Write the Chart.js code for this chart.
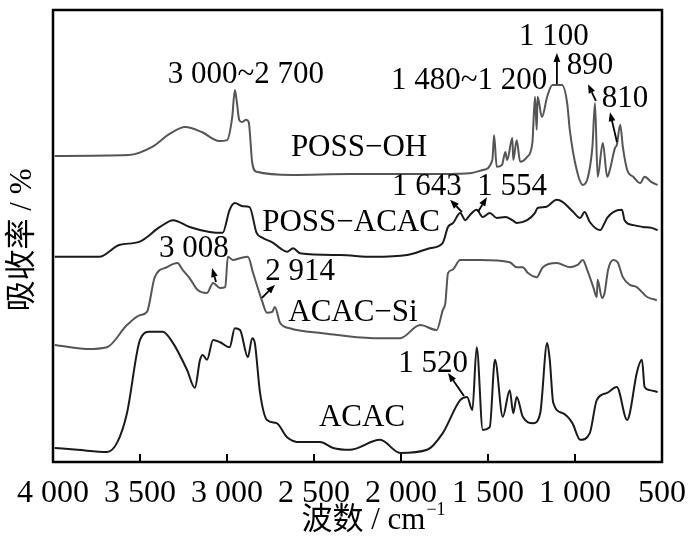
<!DOCTYPE html>
<html><head><meta charset="utf-8">
<script src="https://cdn.jsdelivr.net/npm/chart.js@4.4.1/dist/chart.umd.min.js"></script>
<style>html,body{margin:0;padding:0;background:#fff}</style>
</head><body>
<canvas id="c" width="700" height="555"></canvas>
<script>
// ---- data (wavenumber / cm^-1 and stacked absorbance reading, arbitrary %) ----
const xTicks = [4000, 3500, 3000, 2500, 2000, 1500, 1000, 500];
const xTickLabels = ['4 000', '3 500', '3 000', '2 500', '2 000', '1 500', '1 000', '500'];
const seriesNames = ['POSS−OH', 'POSS−ACAC', 'ACAC−Si', 'ACAC'];

const possOhWn = [3990,3565,3430,3330,3240,3145,3045,3000,2970,2955,2945,2930,2915,2890,2875,2870,2855,2830,2625,2295,1890,1605,1530,1475,1465,1450,1420,1400,1390,1360,1355,1335,1315,1275,1245,1230,1220,1215,1190,1160,1130,1075,1045,1030,990,955,925,900,885,870,840,815,800,770,760,740,725,700,665,625,600,560,525];
const possOhVal = [67.7,67.9,69.7,72.6,74.1,73.0,71.0,71.2,76.3,82.3,80.1,75.7,75.2,75.7,75.2,73.5,66.2,64.2,63.5,63.7,63.7,63.9,64.6,66.8,72.3,65.3,65.7,68.6,66.8,71.7,66.8,71.2,66.4,67.5,70.6,80.8,73.5,80.8,76.3,80.8,83.4,83.4,79.4,73.5,64.6,61.3,63.1,69.7,79.4,63.1,70.6,63.1,64.6,69.5,70.1,74.6,69.7,64.6,63.1,61.7,63.1,61.9,61.3];

const possAcacWn = [3990,3735,3620,3505,3385,3310,3215,3100,3025,2985,2955,2910,2870,2830,2795,2735,2695,2655,2620,2580,2350,2160,1965,1835,1760,1730,1700,1660,1630,1605,1565,1530,1490,1450,1400,1360,1335,1275,1230,1215,1170,1105,1070,1010,970,945,915,855,830,815,780,730,715,665,610,560,525];
const possAcacVal = [45.4,45.4,48.0,48.7,52.0,53.5,52.0,50.9,50.7,55.8,57.3,56.6,56.4,50.7,49.6,48.5,47.3,46.5,47.3,46.2,45.8,45.4,45.8,47.3,48.5,52.0,52.9,55.1,53.5,54.6,55.8,54.2,55.1,54.0,54.2,53.5,52.9,53.5,55.1,56.2,56.4,58.0,57.5,55.3,54.0,55.3,53.1,51.3,52.9,54.0,55.3,55.8,53.5,52.4,52.0,51.8,51.3];

const acacSiWn = [3990,3805,3690,3575,3500,3460,3415,3345,3285,3255,3215,3170,3115,3080,3040,3010,2995,2965,2925,2880,2850,2800,2770,2740,2725,2695,2640,2450,2160,2005,1890,1795,1760,1745,1730,1705,1660,1545,1375,1335,1300,1270,1220,1185,1105,1030,985,955,930,895,875,870,845,830,810,780,755,725,685,645,585,530];
const acacSiVal = [25.9,25.0,25.4,30.3,32.5,33.2,40.9,43.1,44.0,42.5,40.7,38.1,37.4,39.6,38.5,38.7,45.4,44.7,45.1,45.4,41.8,35.8,33.0,33.2,34.3,30.8,29.6,28.5,27.4,27.4,30.3,29.2,33.6,35.2,41.8,42.5,44.7,44.7,44.2,43.1,43.1,41.8,40.9,43.1,44.0,43.1,43.6,44.7,42.5,38.7,36.5,40.3,36.3,37.4,42.5,44.7,44.2,40.9,39.2,38.7,36.5,35.8];

const acacWn = [3990,3860,3690,3630,3575,3500,3445,3370,3310,3230,3185,3155,3140,3115,3080,3040,2985,2955,2925,2880,2855,2840,2810,2770,2715,2655,2580,2465,2390,2295,2120,2005,1850,1760,1660,1620,1590,1565,1530,1490,1460,1415,1375,1355,1335,1300,1240,1200,1160,1145,1125,1070,1015,970,915,875,815,760,700,685,645,615,600,570,525];
const acacVal = [3.1,2.7,2.2,4.4,10.8,27.0,28.8,28.8,26.3,20.4,16.4,22.6,23.7,22.6,27.0,26.5,25.4,29.6,29.2,23.2,27.4,26.3,15.3,9.3,8.6,5.5,4.4,4.4,3.1,2.7,4.9,2.0,2.7,6.4,13.7,14.4,11.5,25.4,7.1,7.7,22.6,10.0,15.9,10.8,14.4,10.0,8.6,10.8,26.3,22.6,13.1,10.8,8.6,4.9,6.4,13.7,15.3,16.6,9.3,10.8,19.7,22.6,16.6,15.9,15.5];

// ---- annotations (in data coordinates) ----
const notes = [
  {text:'3 000~2 700', wn:2891, val:85.6},
  {text:'1 100', wn:1121, val:94.0},
  {text:'1 480~1 200', wn:1609, val:84.3},
  {text:'890', wn:914, val:87.6},
  {text:'810', wn:713, val:80.3},
  {text:'POSS−OH', wn:2241, val:69.5},
  {text:'1 643', wn:1851, val:60.8},
  {text:'1 554', wn:1362, val:60.8},
  {text:'POSS−ACAC', wn:2287, val:52.9},
  {text:'3 008', wn:3190, val:47.1},
  {text:'2 914', wn:2580, val:42.0},
  {text:'ACAC−Si', wn:2276, val:33.0},
  {text:'1 520', wn:1816, val:21.7},
  {text:'ACAC', wn:2224, val:9.7}
];
const arrows = [
  {hw:1104, hv:90.5, tw:1104, tv:83.6},
  {hw:925, hv:83.6, tw:880, tv:79.9},
  {hw:799, hv:77.4, tw:759, tv:70.8},
  {hw:1718, hv:58.0, tw:1649, tv:55.3},
  {hw:1506, hv:58.6, tw:1558, tv:55.3},
  {hw:3086, hv:42.9, tw:3063, tv:39.8},
  {hw:2724, hv:39.2, tw:2799, tv:36.3},
  {hw:1730, hv:19.7, tw:1638, tv:14.6}
];

const toPts = (w, v) => w.map((x, i) => ({x, y: v[i]}));
const colors = ['#555555', '#1a1a1a', '#555555', '#1a1a1a'];
const seriesData = [toPts(possOhWn, possOhVal), toPts(possAcacWn, possAcacVal), toPts(acacSiWn, acacSiVal), toPts(acacWn, acacVal)];

const SERIF = '"Liberation Serif", "Noto Sans CJK SC", serif';

const decor = {
  id: 'decor',
  afterDatasetsDraw(chart) {
    const {ctx, chartArea: a, scales: {x, y}} = chart;
    ctx.save();
    // frame
    ctx.strokeStyle = '#000';
    ctx.lineWidth = 2.5;
    ctx.strokeRect(a.left, a.top, a.right - a.left, a.bottom - a.top);
    // inward tick marks
    ctx.lineWidth = 2;
    xTicks.forEach(t => {
      if (t === 4000 || t === 500) return;
      const px = x.getPixelForValue(t);
      ctx.beginPath(); ctx.moveTo(px, a.bottom); ctx.lineTo(px, a.bottom - 8); ctx.stroke();
    });
    // arrows
    ctx.fillStyle = '#000';
    ctx.lineWidth = 1.8;
    arrows.forEach(ar => {
      const hx = x.getPixelForValue(ar.hw), hy = y.getPixelForValue(ar.hv);
      const tx = x.getPixelForValue(ar.tw), ty = y.getPixelForValue(ar.tv);
      const ang = Math.atan2(hy - ty, hx - tx);
      const L = 9, W = 3.4;
      const bx = hx - L * Math.cos(ang), by = hy - L * Math.sin(ang);
      ctx.beginPath(); ctx.moveTo(tx, ty); ctx.lineTo(bx, by); ctx.stroke();
      ctx.beginPath();
      ctx.moveTo(hx, hy);
      ctx.lineTo(bx + W * Math.sin(ang), by - W * Math.cos(ang));
      ctx.lineTo(bx - W * Math.sin(ang), by + W * Math.cos(ang));
      ctx.closePath(); ctx.fill();
    });
    // annotation texts
    ctx.font = '31px ' + SERIF;
    ctx.textAlign = 'center';
    ctx.textBaseline = 'middle';
    notes.forEach(n => ctx.fillText(n.text, x.getPixelForValue(n.wn), y.getPixelForValue(n.val)));
    // x axis title with superscript
    const main = '波数 / cm', sup = '−1';
    ctx.font = '31px ' + SERIF;
    const mw = ctx.measureText(main).width;
    ctx.font = '18px ' + SERIF;
    const sw = ctx.measureText(sup).width;
    const cx = 373, cy = 521;
    const sx = cx - (mw + sw) / 2;
    ctx.textAlign = 'left';
    ctx.font = '31px ' + SERIF;
    ctx.fillText(main, sx, cy);
    ctx.font = '18px ' + SERIF;
    ctx.fillText(sup, sx + mw + 1, cy - 11);
    // y axis title
    ctx.translate(23, 240);
    ctx.rotate(-Math.PI / 2);
    ctx.textAlign = 'center';
    ctx.font = '31px ' + SERIF;
    ctx.fillText('吸收率 / %', 0, 0);
    ctx.restore();
  }
};

new Chart(document.getElementById('c'), {
  type: 'line',
  data: {
    datasets: seriesData.map((d, i) => ({
      label: seriesNames[i],
      data: d,
      borderColor: colors[i],
      borderWidth: 2,
      pointRadius: 0,
      fill: false,
      cubicInterpolationMode: 'monotone'
    }))
  },
  options: {
    responsive: false,
    animation: false,
    layout: {padding: {left: 53, right: 38, top: 10, bottom: 0}},
    plugins: {legend: {display: false}, tooltip: {enabled: false}},
    scales: {
      x: {
        type: 'linear',
        reverse: true,
        min: 500, max: 4000,
        grid: {display: false, drawTicks: false},
        border: {display: false},
        afterBuildTicks: s => { s.ticks = xTicks.map(v => ({value: v})); },
        afterFit: s => { s.height = 93; },
        ticks: {
          padding: 12,
          color: '#000',
          font: {family: SERIF, size: 32},
          maxRotation: 0,
          autoSkip: false,
          callback: v => xTickLabels[xTicks.indexOf(v)]
        }
      },
      y: {
        display: false,
        min: 0, max: 100
      }
    }
  },
  plugins: [decor]
});
</script>
</body></html>
